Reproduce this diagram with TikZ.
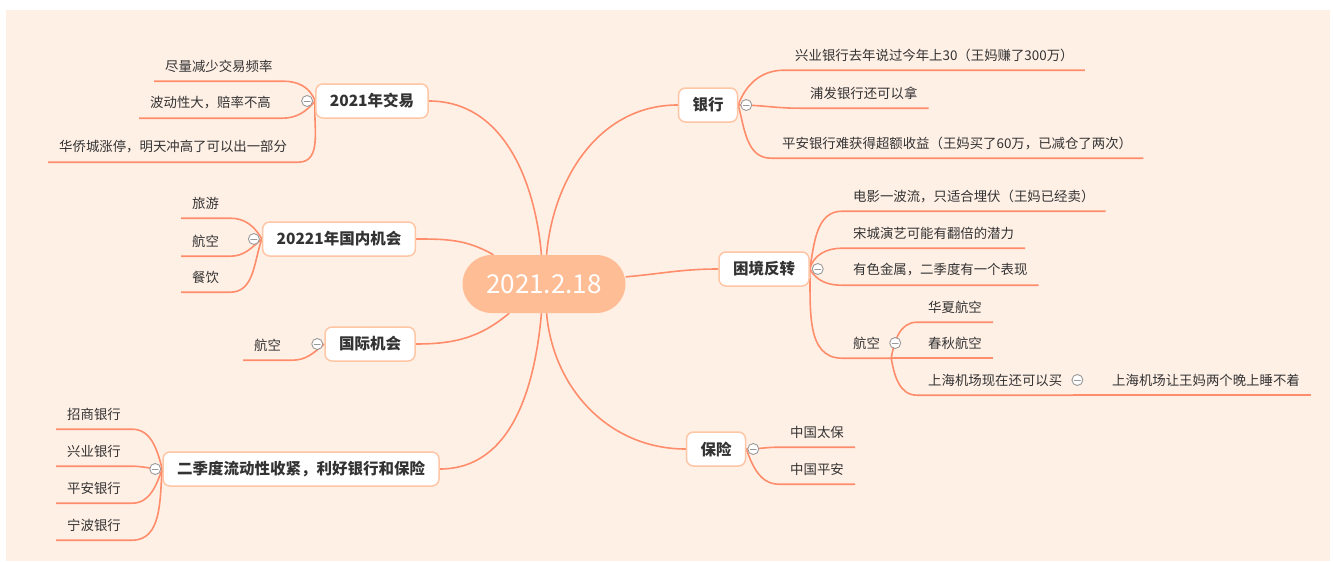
\documentclass[tikz,border=0pt]{standalone}
\usepackage{fontspec}
\setmainfont{Noto Sans CJK SC}
\definecolor{pagebg}{HTML}{FFF0E6}
\definecolor{hubfill}{HTML}{FFBD95}
\definecolor{linkred}{HTML}{FF8D6B}
\definecolor{rimc}{HTML}{FFC6A5}
\definecolor{inkc}{HTML}{333333}
\definecolor{knobc}{HTML}{999999}
\pgfdeclarelayer{backdrop}
\pgfdeclarelayer{links}
\pgfsetlayers{backdrop,links,main}
\tikzset{
  hubnode/.style={fill=hubfill,rounded corners=29pt,minimum width=163pt,minimum height=58pt,
    text=white,font=\fontsize{26}{30}\selectfont},
  topic/.style={draw=rimc,line width=1.5pt,fill=white,rounded corners=7pt,text=inkc,
    font=\fontsize{15.5}{18}\selectfont\bfseries,inner xsep=14pt,minimum height=34pt},
  leaf/.style={font=\fontsize{13.4}{16}\selectfont,text=inkc,inner xsep=11pt,inner ysep=0pt,
    minimum height=30pt,anchor=west},
  wire/.style={draw=linkred,line width=1.6pt},
  fold/.style={circle,draw=knobc,fill=white,line width=0.9pt,minimum size=11pt,inner sep=0pt,
    path picture={\draw[knobc,line width=0.9pt] ([xshift=-3pt]path picture bounding box.center)
      -- ([xshift=3pt]path picture bounding box.center);}}
}
\begin{document}
\begin{tikzpicture}[x=1pt,y=-1pt,line cap=round,line join=round]
  \useasboundingbox (0,0) rectangle (1333,562);
  \begin{pgfonlayer}{backdrop}
    \fill[pagebg] (6,10) rectangle (1330,561);
  \end{pgfonlayer}
  % centre and main topics
  \node[hubnode] (hub) at (544,284) {2021.2.18};
  \node[topic] (year) at (372,101) {2021年交易};
  \node[topic] (home) at (339,239) {20221年国内机会};
  \node[topic] (abroad) at (370,344) {国际机会};
  \node[topic] (q2) at (301,469) {二季度流动性收紧，利好银行和保险};
  \node[topic] (bank) at (708,105) {银行};
  \node[topic] (turn) at (764,269) {困境反转};
  \node[topic] (cover) at (716,449) {保险};
  % left leaves
  \node[leaf] (a1) at (154,66) {尽量减少交易频率};
  \node[leaf] (a2) at (139,103) {波动性大，赔率不高};
  \node[leaf] (a3) at (48,147) {华侨城涨停，明天冲高了可以出一部分};
  \node[leaf] (b1) at (181,203) {旅游};
  \node[leaf] (b2) at (181,241) {航空};
  \node[leaf] (b3) at (181,277) {餐饮};
  \node[leaf] (c1) at (243,345) {航空};
  \node[leaf] (d1) at (56,414) {招商银行};
  \node[leaf] (d2) at (56,451) {兴业银行};
  \node[leaf] (d3) at (56,488) {平安银行};
  \node[leaf] (d4) at (56,525) {宁波银行};
  % right leaves
  \node[leaf] (e1) at (784,55) {兴业银行去年说过今年上30（王妈赚了300万）};
  \node[leaf] (e2) at (799,93) {浦发银行还可以拿};
  \node[leaf] (e3) at (771,143) {平安银行难获得超额收益（王妈买了60万，已减仓了两次）};
  \node[leaf] (g1) at (842,196) {电影一波流，只适合埋伏（王妈已经卖）};
  \node[leaf] (g2) at (842,233) {宋城演艺可能有翻倍的潜力};
  \node[leaf] (g3) at (842,270) {有色金属，二季度有一个表现};
  \node[leaf] (g4) at (842,343) {航空};
  \node[leaf] (h1) at (917,307) {华夏航空};
  \node[leaf] (h2) at (917,343) {春秋航空};
  \node[leaf] (h3) at (917,380) {上海机场现在还可以买};
  \node[leaf] (k1) at (1101,380) {上海机场让王妈两个晚上睡不着};
  \node[leaf] (m1) at (779,432) {中国太保};
  \node[leaf] (m2) at (779,469) {中国平安};
  \begin{pgfonlayer}{links}
    \draw[wire] (hub) to[out=95,in=0] (year);
    \draw[wire] (hub) to[out=150,in=0] (home);
    \draw[wire] (hub) to[out=-140,in=0] (abroad);
    \draw[wire] (hub) to[out=-95,in=0] (q2);
    \draw[wire] (hub) to[out=85,in=180] (bank);
    \draw[wire] (hub) to[out=5,in=180] (turn);
    \draw[wire] (hub) to[out=-85,in=180] (cover);
    \foreach \k/\o in {a1/110,a2/-130,a3/-95}
      \draw[wire] (year.west) to[out=\o,in=0] (\k.south east) -- (\k.south west);
    \foreach \k/\o in {b1/120,b2/-140,b3/-110}
      \draw[wire] (home.west) to[out=\o,in=0] (\k.south east) -- (\k.south west);
    \draw[wire] (abroad.west) to[out=-140,in=0] (c1.south east) -- (c1.south west);
    \foreach \k/\o in {d1/105,d2/180,d3/-110,d4/-95}
      \draw[wire] (q2.west) to[out=\o,in=0] (\k.south east) -- (\k.south west);
    \foreach \k/\o in {e1/70,e2/0,e3/-75}
      \draw[wire] (bank.east) to[out=\o,in=180] (\k.south west) -- (\k.south east);
    \foreach \k/\o in {g1/80,g2/75,g3/-60,g4/-88}
      \draw[wire] (turn.east) to[out=\o,in=180] (\k.south west) -- (\k.south east);
    \foreach \k/\o in {h1/80,h2/0,h3/-80}
      \draw[wire] (g4.south east) to[out=\o,in=180] (\k.south west) -- (\k.south east);
    \draw[wire] (h3.south east) -- (k1.south west) -- (k1.south east);
    \foreach \k/\o in {m1/0,m2/-70}
      \draw[wire] (cover.east) to[out=\o,in=180] (\k.south west) -- (\k.south east);
  \end{pgfonlayer}
  % fold markers
  \node[fold] (fy) at ([xshift=-8pt]year.west) {};
  \node[fold] (fh) at ([xshift=-8pt]home.west) {};
  \node[fold] (fa) at ([xshift=-7pt]abroad.west) {};
  \node[fold] (fq) at ([xshift=-7pt]q2.west) {};
  \node[fold] (fb) at ([xshift=8pt]bank.east) {};
  \node[fold] (ft) at ([xshift=8pt]turn.east) {};
  \node[fold] (fc) at ([xshift=7pt]cover.east) {};
  \node[fold] (fg) at ([xshift=4pt]g4.east) {};
  \node[fold] (fk) at ([xshift=4pt]h3.east) {};
\end{tikzpicture}
\end{document}
